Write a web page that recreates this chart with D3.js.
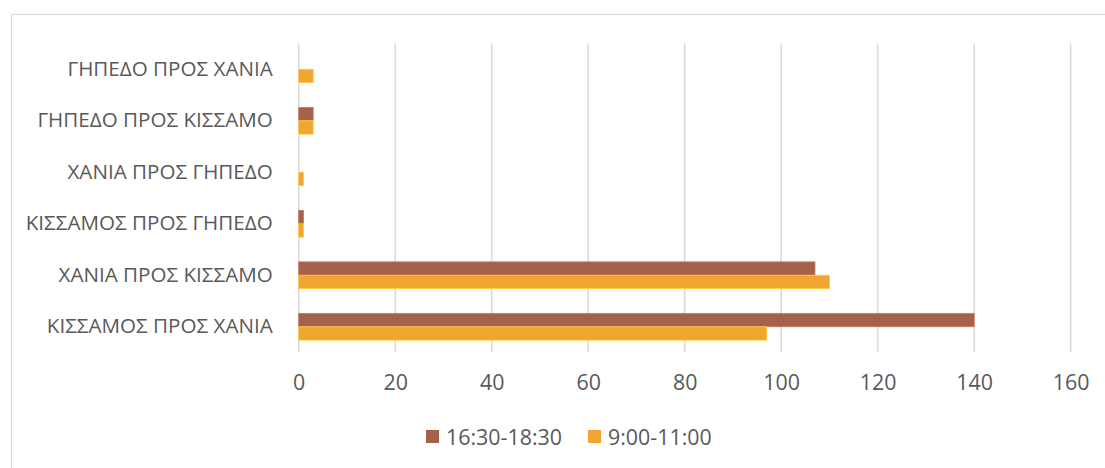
<!DOCTYPE html>
<html>
<head>
<meta charset="utf-8">
<script src="https://cdn.jsdelivr.net/npm/d3@7"></script>
<style>
  html, body { margin: 0; padding: 0; background: #fff; }
  svg { display: block; }
  text { font-family: "Open Sans", "Noto Sans", sans-serif; fill: #595959; }
</style>
</head>
<body>
<svg id="chart" width="1105" height="468"></svg>
<script>
// Routes, listed bottom to top as they appear on the axis
const routes = [
  "ΚΙΣΣΑΜΟΣ ΠΡΟΣ ΧΑΝΙΑ",
  "ΧΑΝΙΑ ΠΡΟΣ ΚΙΣΣΑΜΟ",
  "ΚΙΣΣΑΜΟΣ ΠΡΟΣ ΓΗΠΕΔΟ",
  "ΧΑΝΙΑ ΠΡΟΣ ΓΗΠΕΔΟ",
  "ΓΗΠΕΔΟ ΠΡΟΣ ΚΙΣΣΑΜΟ",
  "ΓΗΠΕΔΟ ΠΡΟΣ ΧΑΝΙΑ"
];
const seriesNames = ["16:30-18:30", "9:00-11:00"];
const evening = [140, 107, 1, 0, 3, 0];   // 16:30-18:30
const morning = [97, 110, 1, 1, 3, 3];    // 9:00-11:00
const xTicks = [0, 20, 40, 60, 80, 100, 120, 140, 160];
const seriesColors = ["#A5624B", "#F1A531"];

const FONT = "'Open Sans', 'Noto Sans', sans-serif";
const catSize = 20.6, tickSize = 21.4;

const svg = d3.select("#chart");

// outer chart frame
svg.append("rect")
  .attr("x", 11.5).attr("y", 14.5)
  .attr("width", 1200).attr("height", 600)
  .attr("fill", "none").attr("stroke", "#d9d9d9").attr("stroke-width", 1.2);

const plot = { left: 298.7, right: 1070.7, top: 43.5, bottom: 352.5 };

const x = d3.scaleLinear().domain([0, 160]).range([plot.left, plot.right]);
const y = d3.scaleBand().domain(routes.slice().reverse())
  .range([plot.top, plot.bottom]).paddingInner(0.48).paddingOuter(0.24);
const ySub = d3.scaleBand().domain(seriesNames).range([0, y.bandwidth()]);

// vertical gridlines
svg.append("g")
  .selectAll("line").data(xTicks).join("line")
  .attr("x1", d => x(d)).attr("x2", d => x(d))
  .attr("y1", plot.top).attr("y2", plot.bottom)
  .attr("stroke", "#d9d9d9").attr("stroke-width", 1.5);

// value axis labels
const xAxis = d3.axisBottom(x).tickValues(xTicks).tickSize(0).tickPadding(0);
const gx = svg.append("g").attr("transform", `translate(0, ${plot.bottom + 22})`).call(xAxis);
gx.select(".domain").remove();
gx.selectAll("text").attr("font-size", tickSize).attr("fill", "#595959")
  .style("font-family", FONT);

// category axis labels
const yAxis = d3.axisLeft(y).tickSize(0).tickPadding(0);
const gy = svg.append("g").attr("transform", `translate(${plot.left - 26}, 0)`).call(yAxis);
gy.select(".domain").remove();
gy.selectAll("text").attr("font-size", catSize).attr("fill", "#595959")
  .style("font-family", FONT);

// bars
const rows = routes.map((r, i) => ({ route: r, values: [evening[i], morning[i]] }));
const groups = svg.append("g").selectAll("g").data(rows).join("g")
  .attr("transform", d => `translate(0, ${y(d.route)})`);
groups.selectAll("rect")
  .data(d => d.values.map((v, k) => ({ key: seriesNames[k], value: v, k })))
  .join("rect")
  .filter(d => d.value > 0)
  .attr("x", x(0))
  .attr("y", d => ySub(d.key))
  .attr("width", d => x(d.value) - x(0))
  .attr("height", ySub.bandwidth())
  .attr("fill", d => seriesColors[d.k])
  .attr("stroke", d => d3.color(seriesColors[d.k]).brighter(0.6))
  .attr("stroke-width", 0.8);

// legend
const legend = svg.append("g").attr("transform", "translate(426, 430)");
const legendX = [0, 162];
seriesNames.forEach((name, i) => {
  const g = legend.append("g").attr("transform", `translate(${legendX[i]}, 0)`);
  g.append("rect").attr("width", 13).attr("height", 13).attr("fill", seriesColors[i]);
  g.append("text").attr("x", 20).attr("y", 7).attr("dy", "0.35em")
    .attr("font-size", tickSize).text(name);
});
</script>
</body>
</html>
